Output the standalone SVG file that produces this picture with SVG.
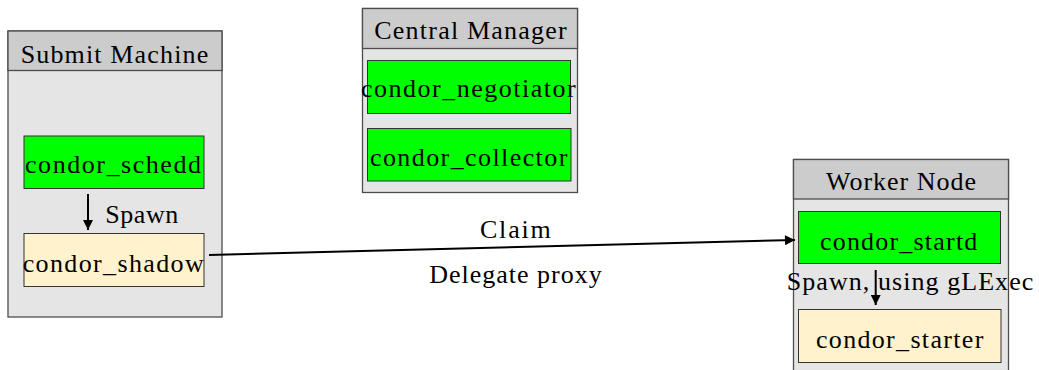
<svg xmlns="http://www.w3.org/2000/svg" width="1039" height="370" viewBox="0 0 1039 370">
<defs>
<style>
text{font-family:"Liberation Serif","Times New Roman",serif;font-size:26px;fill:#000}
.cl{fill:#e5e5e5;stroke:#4d4d4d;stroke-width:1.3}
.hd{fill:#cccccc;stroke:#4d4d4d;stroke-width:1.3}
.gr{fill:#00ff00;stroke:#333;stroke-width:1}
.cr{fill:#fff2cc;stroke:#333;stroke-width:1}
.e{stroke:#000;stroke-width:2;fill:none}
</style>
<marker id="ah" viewBox="0 0 10 10" refX="10" refY="5" markerWidth="14" markerHeight="10" markerUnits="userSpaceOnUse" orient="auto">
<path d="M0,0 L10,5 L0,10 z" fill="#000"/>
</marker>
</defs>
<g id="submit_machine">
<rect class="cl" x="8" y="31" width="214" height="286"/>
<rect class="hd" x="8" y="31" width="214" height="39.5"/>
<text x="20.7" y="63.3" textLength="187.5" lengthAdjust="spacing">Submit Machine</text>
</g>
<g id="condor_schedd">
<rect class="gr" x="24" y="136" width="180" height="52.5"/>
<text x="25" y="173.3" textLength="176" lengthAdjust="spacing">condor_schedd</text>
</g>
<g id="condor_shadow">
<rect class="cr" x="24" y="233.5" width="180" height="53"/>
<text x="22.7" y="271.7" textLength="181" lengthAdjust="spacing">condor_shadow</text>
</g>
<g id="central_manager">
<rect class="cl" x="362.5" y="8.5" width="215" height="184"/>
<rect class="hd" x="362.5" y="8.5" width="215" height="40"/>
<text x="374.3" y="39.3" textLength="192.4" lengthAdjust="spacing">Central Manager</text>
</g>
<g id="condor_negotiator">
<rect class="gr" x="367.5" y="60.5" width="203" height="53"/>
<text x="361" y="96.7" textLength="214.7" lengthAdjust="spacing">condor_negotiator</text>
</g>
<g id="condor_collector">
<rect class="gr" x="367.5" y="128.5" width="203.5" height="52.5"/>
<text x="370" y="165.7" textLength="197.3" lengthAdjust="spacing">condor_collector</text>
</g>
<g id="worker_node">
<rect class="cl" x="793.5" y="159.5" width="215" height="230"/>
<rect class="hd" x="793.5" y="159.5" width="215" height="39.5"/>
<text x="826" y="190" textLength="150" lengthAdjust="spacing">Worker Node</text>
</g>
<g id="condor_startd">
<rect class="gr" x="798.5" y="211.5" width="202" height="52"/>
<text x="820" y="250" textLength="157.3" lengthAdjust="spacing">condor_startd</text>
</g>
<g id="condor_starter">
<rect class="cr" x="798.5" y="309.5" width="202.5" height="53"/>
<text x="816" y="348.3" textLength="167.3" lengthAdjust="spacing">condor_starter</text>
</g>
<g id="connectors">
<line class="e" x1="88" y1="194" x2="88" y2="230" marker-end="url(#ah)"/>
<text x="105.3" y="222.7" textLength="73" lengthAdjust="spacing">Spawn</text>
<line class="e" x1="209" y1="255" x2="795" y2="240" marker-end="url(#ah)"/>
<text x="480" y="237.7" textLength="70.7" lengthAdjust="spacing">Claim</text>
<text x="429.3" y="283.3" textLength="172.4" lengthAdjust="spacing">Delegate proxy</text>
<line class="e" x1="875.7" y1="270" x2="875.7" y2="305" marker-end="url(#ah)"/>
<text x="786.7" y="290" textLength="246.6" lengthAdjust="spacing">Spawn, using gLExec</text>
</g>
</svg>
